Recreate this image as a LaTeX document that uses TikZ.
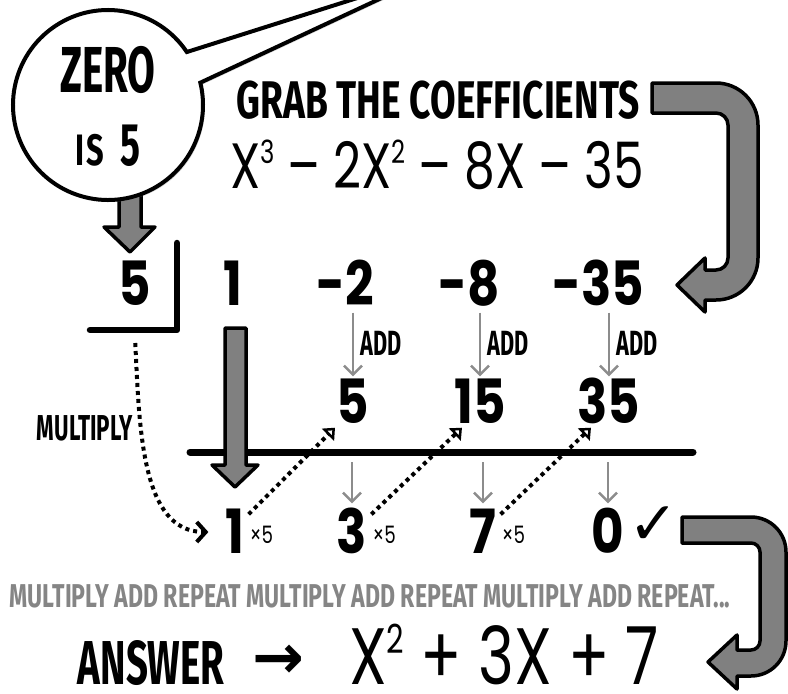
\documentclass[tikz,border=0pt]{standalone}
\usepackage{fontspec}
\usepackage{graphicx}
\usetikzlibrary{positioning, arrows.meta, calc, shadows}
\newfontfamily\kgfont{Fira Sans}[FakeStretch=0.62]
\newfontfamily\kgwide{Fira Sans}[FakeStretch=0.7]
\newfontfamily\roundfont{Poppins}[FakeStretch=0.76]
\newfontfamily\numfont{Poppins}[FakeStretch=0.82]
\newfontfamily\symfont{DejaVu Sans}
\definecolor{arrowgray}{HTML}{808080}
\definecolor{addgray}{HTML}{8C8C8C}
\definecolor{loopgray}{HTML}{858585}
\newcommand\pw[1]{\raisebox{0.38em}{\scalebox{0.5}{#1}}}

\begin{document}
\begin{tikzpicture}[x=1pt, y=-1pt,
  bubble/.style={draw=black, fill=white, line width=4pt},
  blockarrow/.style={draw=black, fill=arrowgray, line width=3.5pt, line join=round},
  kgbig/.style={font=\kgfont\bfseries\fontsize{65pt}{65pt}\selectfont, inner sep=0pt},
  headtext/.style={font=\kgwide\bfseries\fontsize{53pt}{53pt}\selectfont, inner sep=0pt},
  polytext/.style={font=\roundfont\fontsize{64pt}{64pt}\selectfont, inner sep=0pt},
  num/.style={font=\numfont\bfseries\fontsize{61pt}{61pt}\selectfont, inner sep=4pt, text height=43pt, text depth=0pt},
  times/.style={font=\roundfont\fontsize{24pt}{24pt}\selectfont, inner sep=1pt},
  addarrow/.style={draw=addgray, line width=2.5pt, -{Straight Barb[length=9pt, width=18pt]}},
  addlabel/.style={font=\kgfont\bfseries\fontsize{35pt}{35pt}\selectfont, inner sep=0pt, anchor=west, xshift=6pt},
  dotline/.style={line width=4pt, dash pattern=on 4pt off 4pt},
  rule/.style={line width=6.5pt, line cap=round, line join=round}]
  \useasboundingbox (0,0) rectangle (788,694);

  % speech bubble with the zero
  \draw[blockarrow] (119,190) -- (141,190) -- (141,227) -- (155,227) -- (130,252) -- (104,227) -- (119,227) -- cycle;
  \coordinate (zc) at (108,105);
  \draw[bubble, drop shadow={shadow xshift=2pt, shadow yshift=-2pt, opacity=0.3}]
    ($(zc)+(33.9:95pt)$) arc[start angle=33.9, end angle=373.6, radius=95pt] -- (433,-26) -- cycle;
  \node[kgbig, anchor=base] (zero) at (108,92) {ZERO};
  \node[kgbig, font=\kgfont\bfseries\fontsize{60pt}{60pt}\selectfont, anchor=base] (isfive) at (108,165)
    {{\kgwide\fontsize{44pt}{44pt}\selectfont I\kern2pt S}\;5};

  % polynomial and its coefficients
  \node[headtext, anchor=base] (grab) at (438,118) {GRAB THE COEFFICIENTS};
  \node[polytext, anchor=base] (poly) at (437,188) {X\pw{3} – 2X\pw{2} – 8X – 35};
  \draw[blockarrow] (652,83) -- (716,83) arc[start angle=90, end angle=0, radius=42pt] -- (758,258)
    arc[start angle=0, end angle=-90, radius=42pt] -- (705,300) -- (705,312) -- (677,285) -- (705,258)
    -- (705,270) -- (716,270) arc[start angle=-90, end angle=0, radius=12pt] -- (728,125)
    arc[start angle=0, end angle=90, radius=12pt] -- (652,113) -- cycle;

  % division bracket
  \coordinate (bt) at (177,243);
  \coordinate (bc) at (177,330);
  \coordinate (bl) at (90,330);
  \draw[rule] (bt) -- (bc) -- (bl);
  \node[num] (div) at (135,284) {5};

  % rows of the table
  \node[num] (t1) at (233,284) {1};
  \node[num] (t2) at (345,284) {-2};
  \node[num] (t3) at (469,284) {-8};
  \node[num] (t4) at (598,284) {-35};
  \node[num] (m1) at (353,402) {5};
  \node[num] (m2) at (480,402) {15};
  \node[num] (m3) at (609,402) {35};
  \node[num] (b1) at (235,532) {1};
  \node[num] (b2) at (352,532) {3};
  \node[num] (b3) at (483,532) {7};
  \node[num] (b4) at (608,532) {0};

  \coordinate (rl) at (190,452);
  \coordinate (rr) at (693,452);
  \draw[rule, line width=7pt] (rl) -- (rr);
  \draw[blockarrow] (225,328) -- (246,328) -- (246,465) -- (258,465) -- (235,487) -- (212,465) -- (225,465) -- cycle;

  \draw[addarrow, shorten <=3pt] (t2.south -| m1.north) -- node[addlabel] {ADD} (m1.north);
  \draw[addarrow, shorten <=3pt] (t3.south -| m2.north) -- node[addlabel] {ADD} (m2.north);
  \draw[addarrow, shorten <=3pt] (t4.south -| m3.north) -- node[addlabel] {ADD} (m3.north);
  \draw[addarrow, shorten >=3pt] ([yshift=-10pt]b2.north |- rl) -- (b2.north);
  \draw[addarrow, shorten >=3pt] ([yshift=-10pt]b3.north |- rl) -- (b3.north);
  \draw[addarrow, shorten >=3pt] ([yshift=-10pt]b4.north |- rl) -- (b4.north);

  % multiply steps
  \draw[dotline, -{Triangle[open, angle=80:13pt, line width=2.5pt]}] ([yshift=-8pt]b1.north east) -- ([xshift=-18pt]m1.south);
  \draw[dotline, -{Triangle[open, angle=80:13pt, line width=2.5pt]}] ([yshift=-8pt]b2.north east) -- ([xshift=-18pt]m2.south);
  \draw[dotline, -{Triangle[open, angle=80:13pt, line width=2.5pt]}] ([yshift=-8pt]b3.north east) -- ([xshift=-18pt]m3.south);
  \draw[dotline, -{Straight Barb[length=9pt, width=20pt, line width=4pt]}, shorten >=13pt]
    ($(bl)!0.52!(bc)+(0,13)$) to[out=-87, in=180] (b1.west);
  \node[addlabel, font=\kgfont\bfseries\fontsize{36pt}{36pt}\selectfont, anchor=base, xshift=0pt] (mult) at (79,440) {MULTIPLY};

  \node[times, right=0pt of b1, yshift=-3pt] (x1) {×5};
  \node[times, right=0pt of b2, yshift=-3pt] (x2) {×5};
  \node[times, right=0pt of b3, yshift=-3pt] (x3) {×5};
  \node[font=\symfont\fontsize{48pt}{48pt}\selectfont, inner sep=0pt, right=0pt of b4, yshift=6pt] (tick) {\scalebox{1.25}{✓}};

  % answer
  \node[font=\kgwide\bfseries\fontsize{33pt}{33pt}\selectfont, text=loopgray, anchor=base, inner sep=0pt] (loop) at (370,607)
    {MULTIPLY ADD REPEAT MULTIPLY ADD REPEAT MULTIPLY ADD REPEAT...};
  \node[font=\kgfont\bfseries\fontsize{62pt}{62pt}\selectfont, inner sep=0pt, anchor=base] (answer) at (151,684) {ANSWER};
  \node[font=\symfont\bfseries\fontsize{62pt}{62pt}\selectfont, inner sep=0pt] (ansarrow) at (278,662) {→};
  \node[polytext, font=\roundfont\fontsize{80pt}{80pt}\selectfont, anchor=base] (result) at (504,684) {X\pw{2} + 3X + 7};
  \draw[blockarrow] (682,517) -- (751,517) arc[start angle=90, end angle=0, radius=35pt] -- (786,641)
    arc[start angle=0, end angle=-90, radius=35pt] -- (737,676) -- (737,689) -- (708,662) -- (737,635)
    -- (737,650) -- (751,650) arc[start angle=-90, end angle=0, radius=9pt] -- (760,552)
    arc[start angle=0, end angle=90, radius=9pt] -- (682,543) -- cycle;
\end{tikzpicture}
\end{document}
